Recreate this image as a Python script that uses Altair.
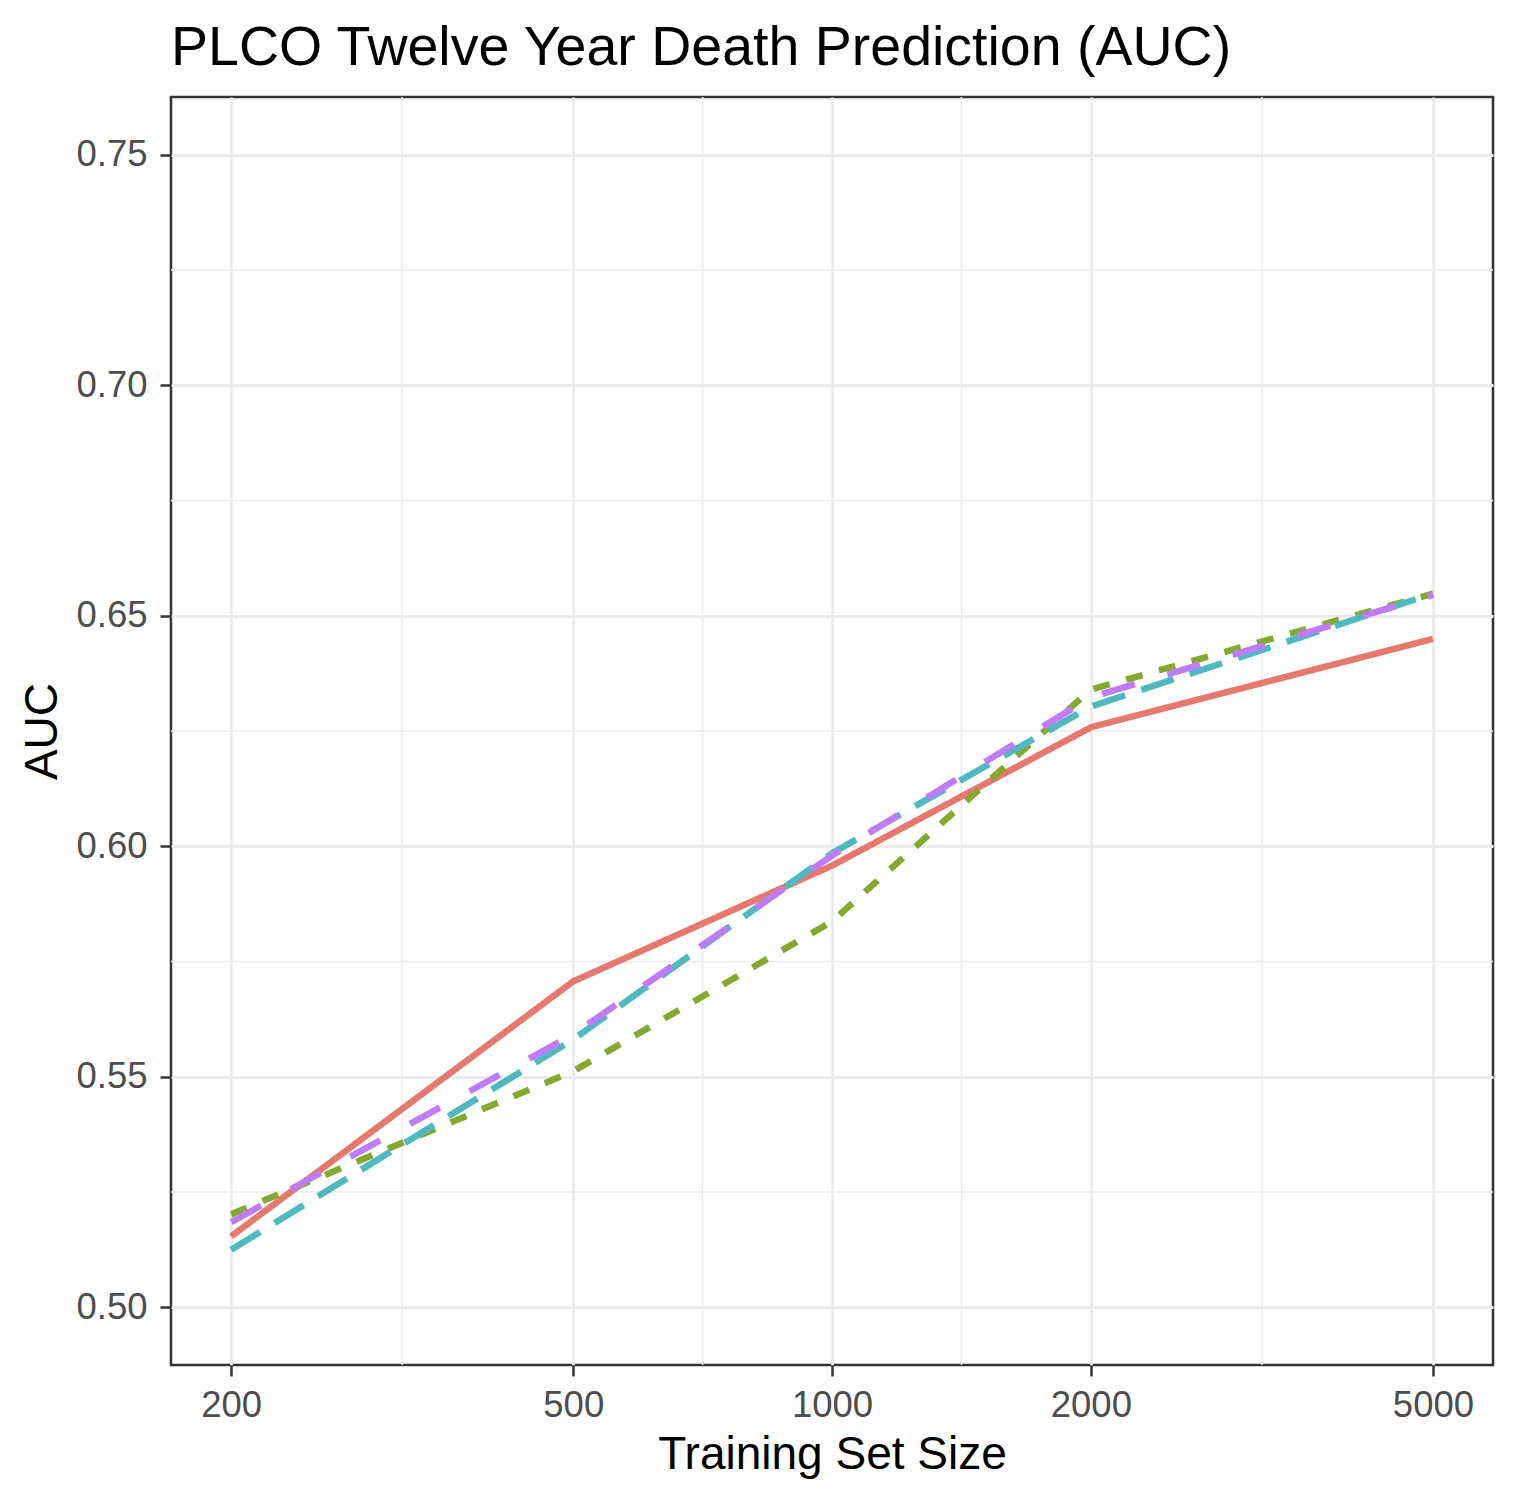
import altair as alt
import pandas as pd

# ---- data ----
sizes = [200, 500, 1000, 2000, 5000]
models = ["Model A", "Model B", "Model C", "Model D"]
auc_a = [0.5154, 0.5707, 0.5958, 0.6258, 0.6450]
auc_b = [0.5202, 0.5512, 0.5837, 0.6340, 0.6548]
auc_c = [0.5125, 0.5581, 0.5985, 0.6303, 0.6548]
auc_d = [0.5185, 0.5592, 0.5980, 0.6323, 0.6545]

x_major = [200, 500, 1000, 2000, 5000]
x_minor = [316.23, 707.11, 1414.21, 3162.28]
y_major = [0.50, 0.55, 0.60, 0.65, 0.70, 0.75]
y_minor = [0.525, 0.575, 0.625, 0.675, 0.725]

colors = ["#E6786E", "#84A92E", "#4FB9C1", "#C07CF6"]
dashes = [[1, 0], [17, 17], [34, 17], [34, 34]]

rows = []
for m, vals in zip(models, [auc_a, auc_b, auc_c, auc_d]):
    for n, v in zip(sizes, vals):
        rows.append({"n": n, "auc": v, "model": m})
df = pd.DataFrame(rows)

x_dom = [170.25, 5872.4]
y_dom = [0.4875, 0.7625]

FONT = "Liberation Sans"

xscale = alt.Scale(type="log", domain=x_dom, nice=False)
yscale = alt.Scale(domain=y_dom, nice=False, zero=False)

x_axis = alt.Axis(
    values=x_major,
    title="Training Set Size",
    format="d",
    titleX=661,
    titleY=103,
    titleBaseline="alphabetic",
    titleAnchor="middle",
)
y_axis = alt.Axis(
    values=y_major,
    title="AUC",
    format=".2f",
    titleX=-129,
    titleY=634,
    titleAngle=-90,
    titleAlign="center",
    titleBaseline="middle",
)

vminor = alt.Chart(pd.DataFrame({"v": x_minor})).mark_rule(
    color="#EBEBEB", strokeWidth=1.5
).encode(x=alt.X("v:Q", scale=xscale, axis=x_axis, title="Training Set Size"))

hminor = alt.Chart(pd.DataFrame({"v": y_minor})).mark_rule(
    color="#EBEBEB", strokeWidth=1.5
).encode(y=alt.Y("v:Q", scale=yscale, axis=y_axis, title="AUC"))

lines = alt.Chart(df).mark_line(strokeWidth=6.5, strokeCap="butt").encode(
    x=alt.X("n:Q", scale=xscale, axis=x_axis, title="Training Set Size"),
    y=alt.Y("auc:Q", scale=yscale, axis=y_axis, title="AUC"),
    color=alt.Color("model:N", scale=alt.Scale(domain=models, range=colors), legend=None),
    strokeDash=alt.StrokeDash("model:N", scale=alt.Scale(domain=models, range=dashes), legend=None),
    order=alt.Order("n:Q"),
    detail="model:N",
)

chart = (
    alt.layer(vminor, hminor, lines)
    .properties(
        width=1322,
        height=1268,
        title=alt.TitleParams(
            "PLCO Twelve Year Death Prediction (AUC)",
            anchor="start",
            frame="group",
            fontSize=55.5,
            font=FONT,
            fontWeight="normal",
            color="#000000",
            offset=20,
        ),
        autosize=alt.AutoSizeParams(type="none"),
        padding={"left": 163, "top": 89, "right": 34, "bottom": 120},
    )
    .configure_view(stroke="#333333", strokeWidth=2.5)
    .configure_axis(
        domain=False,
        grid=True,
        gridColor="#EBEBEB",
        gridWidth=2.8,
        tickColor="#333333",
        tickWidth=2.5,
        tickSize=11,
        labelFont=FONT,
        labelFontSize=36.5,
        labelColor="#4D4D4D",
        titleFont=FONT,
        titleFontSize=46,
        titleFontWeight="normal",
        titleColor="#000000",
    )
    .configure_axisX(labelPadding=11)
    .configure_axisY(labelPadding=13)
)

chart.save("out.html", embed_options={"renderer": "svg", "actions": False})
